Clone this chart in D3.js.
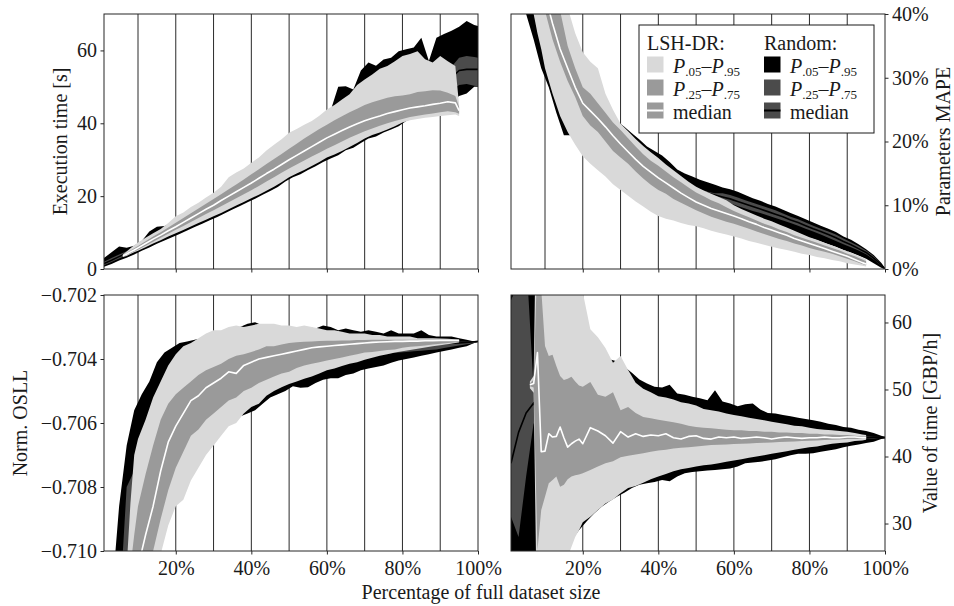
<!DOCTYPE html>
<html>
<head>
<meta charset="utf-8">
<script src="https://cdn.jsdelivr.net/npm/d3@7"></script>
<style>
body { margin: 0; background: #fff; }
svg text { font-family: "Liberation Serif", "Times New Roman", serif; fill: #1a1a1a; }
</style>
</head>
<body>
<svg id="chart" width="954" height="606"></svg>
<script>
// x positions (percentage of full dataset size)
var xRandom = [1,3,5,7,9,11,13,15,17,19, 21,23,25,27,29,31,33,35,37,39, 41,43,45,47,49,51,53,55,57,59,
  61,63,65,67,69,71,73,75,77,79, 81,83,85,87,89,91,93,95,97,99, 100];
var xLsh = [6,7,8,9,10,12,14,16,18,20, 22,24,26,28,30,32,34,36,38,40, 42,44,46,48,50,52,54,56,58,60,
  62,64,66,68,70,72,74,76,78,80, 82,84,86,88,90,92,94,95];
var xLshVot = [6,7,8,9,10,11,12,13,14,15, 16,17,18,19,20,22,24,26,28,30, 32,34,36,38,40,42,44,46,48,50,
  52,54,56,58,60,62,64,66,68,70, 72,74,76,78,80,82,84,86,88,90, 92,94,95];

var xTicks = [20, 40, 60, 80, 100];
var gridX = [10, 20, 30, 40, 50, 60, 70, 80, 90];

// --- execution time [s]
var timeRandP05 = [0.6,1.4,2.3,3.1,4.0,5.0,5.9,6.9,7.8,8.7, 9.6,10.6,11.5,12.4,13.4,14.3,15.3,16.3,17.3,18.3,
  19.3,20.4,21.4,22.5,24.0,25.2,26.0,27.2,28.2,29.4, 30.3,31.2,32.6,33.3,34.6,35.8,36.4,37.5,38.3,39.2,
  40.6,41.5,42.5,43.5,44.3,45.0,45.8,47.5,48.2,50.0, 50.0];
var timeRandP25 = [1.0,1.9,2.9,3.8,4.8,5.9,7.0,8.1,9.2,10.3, 11.4,12.5,13.6,14.7,15.8,16.9,18.0,19.1,20.2,21.3,
  22.4,23.5,24.6,25.7,26.8,27.9,29.0,30.1,31.2,32.3, 33.4,34.5,35.6,36.7,37.8,38.9,40.0,41.0,42.0,43.0,
  44.0,45.0,45.8,46.6,47.4,48.2,49.0,50.5,50.8,50.3, 50.2];
var timeRandP50 = [1.5,2.4,3.4,4.3,5.4,6.5,7.6,8.8,9.9,11.0, 12.1,13.3,14.4,15.5,16.7,17.8,19.0,20.1,21.3,22.4,
  23.6,24.7,25.9,27.0,28.2,29.3,30.5,31.6,32.8,33.9, 35.1,36.2,37.4,38.5,39.7,40.8,42.0,43.1,44.2,45.3,
  46.4,47.5,48.5,49.5,50.5,51.5,52.5,54.5,54.8,54.8, 54.8];
var timeRandP75 = [2.0,3.0,4.0,4.9,6.0,7.2,8.4,9.5,10.7,11.9, 13.0,14.2,15.4,16.6,17.8,19.0,20.2,21.4,22.6,23.8,
  25.0,26.2,27.4,28.6,29.8,31.0,32.2,33.4,34.6,35.8, 37.0,38.2,39.4,40.6,41.8,43.0,44.2,45.4,46.6,47.8,
  49.0,50.2,51.3,52.4,53.5,54.5,55.5,58.0,58.5,58.2, 58.0];
var timeRandP95 = [3.0,4.6,6.2,5.8,6.4,7.7,10.3,11.6,11.8,12.6, 13.8,15.0,16.5,18.0,19.5,21.0,22.5,24.0,25.5,27.0,
  28.5,30.0,31.5,33.0,34.5,36.0,37.5,39.0,40.5,42.0, 43.5,50.0,50.2,49.3,54.5,56.7,55.8,57.5,58.0,59.8,
  60.3,60.8,63.5,57.1,63.5,64.5,65.4,66.5,68.1,67.0, 66.7];
var timeLshP05 = [3.3,3.6,4.1,4.6,5.0,6.0,7.0,7.9,8.9,9.8, 10.7,11.7,12.6,13.5,14.5,15.4,16.4,17.4,18.4,19.4,
  20.4,21.5,22.6,23.8,25.2,26.2,27.2,28.3,29.4,30.6, 31.4,32.4,33.5,34.6,35.8,36.8,37.5,38.3,39.2,40.2,
  40.8,41.2,41.5,41.7,42.0,42.2,42.4,42.0];
var timeLshP25 = [3.4,3.8,4.3,4.8,5.3,6.4,7.5,8.6,9.7,10.8, 11.8,12.9,14.0,15.1,16.1,17.2,18.3,19.4,20.5,21.6,
  22.8,24.0,25.2,26.4,27.6,28.7,29.8,30.9,31.9,33.0, 34.0,35.0,36.0,36.9,37.8,38.6,39.3,40.0,40.6,41.2,
  41.7,42.1,42.4,42.7,43.0,43.3,43.0,42.6];
var timeLshP50 = [3.6,4.1,4.7,5.2,5.8,7.0,8.2,9.3,10.5,11.6, 12.8,14.0,15.2,16.4,17.5,18.8,20.0,21.2,22.4,23.6,
  24.9,26.2,27.4,28.7,30.0,31.2,32.4,33.6,34.8,36.0, 37.0,38.0,39.0,39.9,40.7,41.4,42.0,42.7,43.2,43.7,
  44.2,44.5,44.8,45.2,45.5,45.9,45.6,43.5];
var timeLshP75 = [3.8,4.4,5.1,5.7,6.3,7.6,8.9,10.1,11.4,12.7, 14.0,15.3,16.6,17.9,19.2,20.5,21.9,23.2,24.6,26.0,
  27.4,28.8,30.2,31.6,33.0,34.4,35.8,37.1,38.4,39.6, 40.8,41.9,43.0,44.0,45.0,45.8,46.4,47.0,47.4,47.6,
  48.0,48.6,48.8,49.1,49.0,48.4,47.5,44.5];
var timeLshP95 = [4.0,4.8,5.7,6.5,7.3,8.6,9.8,11.0,12.6,14.5, 15.5,17.0,18.2,19.6,20.9,22.6,25.2,26.5,27.6,29.2,
  30.6,32.5,34.1,35.6,37.4,38.4,39.6,40.6,42.1,43.8, 45.0,46.5,48.0,50.5,52.0,53.4,55.0,55.7,57.0,58.5,
  59.0,59.8,57.6,56.7,58.5,57.0,55.7,45.0];

// --- parameters MAPE [%]
var mapeRandP05 = [60,48,40,36,31.5,28.5,24.5,21,21,19.2, 18.2,17.6,17.0,16.4,15.8,15.2,14.6,14.0,13.5,13.0,
  12.5,12.0,11.5,11.0,10.6,10.2,10.0,9.8,9.5,9.2, 8.6,8.2,7.9,7.5,7.1,6.7,6.3,5.9,5.5,5.1,
  4.7,4.3,3.9,3.5,3.0,2.6,2.1,1.6,0.9,0.2, 0];
var mapeRandP25 = [72,55,46,40,36,31.5,28,25,23,21.8, 20.8,20,19.2,18.4,17.7,17,16.3,15.6,15,14.4,
  13.9,13.4,12.8,12.3,11.8,11.4,11.1,10.9,10.6,10.3, 9.9,9.5,9.1,8.8,8.4,8.0,7.6,7.2,6.8,6.3,
  5.9,5.4,4.9,4.4,3.9,3.4,2.9,2.3,1.5,0.5, 0];
var mapeRandP50 = [80,62,52,45,40,35,31,28,26,24.5, 23,22,21,20.2,19.4,18.6,17.8,17.0,16.3,15.7,
  15.1,14.5,13.9,13.3,12.7,12.2,11.9,11.6,11.3,11.0, 10.6,10.2,9.8,9.4,9.0,8.6,8.2,7.7,7.3,6.8,
  6.3,5.9,5.4,4.9,4.3,3.8,3.2,2.6,1.7,0.7, 0];
var mapeRandP75 = [90,72,58,50,44,39,35,31.5,29,27, 25.5,24,23,22,21,20.2,19.4,18.6,17.8,17.0,
  16.2,15.5,14.8,13.9,13.1,12.5,12.1,11.9,11.9,11.6, 11.2,10.8,10.4,10.0,9.6,9.2,8.7,8.2,7.8,7.3,
  6.8,6.3,5.9,5.4,4.8,4.2,3.6,2.9,2.0,0.9, 0];
var mapeRandP95 = [100,90,75,62,55,48,42,38,35,32, 29.5,27.5,26,24.5,23.2,22.3,21.3,20.3,19.2,18.5,
  17.8,16.8,15.6,15.0,14.5,14.0,13.6,13.2,12.8,12.5, 12.1,11.6,11.1,10.7,10.2,9.8,9.3,8.8,8.3,7.8,
  7.3,6.8,6.3,5.8,5.1,4.6,3.9,3.1,2.2,1.0, 0];
var mapeLshP05 = [46,40,37,34.5,31.5,27.5,24,21.5,19.5,17.7, 16.5,15.5,14.5,13.3,12.4,11.5,10.6,9.8,9.0,8.3,
  7.9,7.6,7.2,6.9,6.7,6.4,6.0,5.7,5.4,5.1, 4.8,4.4,4.1,3.8,3.5,3.2,3.0,2.7,2.4,2.2,
  1.9,1.7,1.4,1.2,0.9,0.7,0.5,0.4];
var mapeLshP25 = [60,52,46,42,40.5,36,32.5,29.5,27,24, 22.5,21.5,20,18.5,17.5,16.5,15.3,14.2,13.2,12.4,
  11.8,11.0,10.4,9.8,9.2,8.7,8.2,7.8,7.4,7.1, 6.7,6.3,5.9,5.5,5.1,4.7,4.4,4.0,3.7,3.3,
  3.0,2.7,2.4,2.0,1.6,1.2,0.8,0.6];
var mapeLshP50 = [65,57,50,46,43,38.5,34.5,31.5,28.5,26.0, 24.8,23.6,22.3,20.9,19.6,18.4,17.2,16.1,15.2,14.3,
  13.5,12.7,11.9,11.2,10.5,10.0,9.5,9.1,8.7,8.3, 7.9,7.4,7.0,6.5,6.1,5.7,5.3,4.8,4.4,4.0,
  3.6,3.2,2.8,2.4,2.0,1.5,1.0,0.8];
var mapeLshP75 = [70,62,56,50,47,43,40.5,35,31.5,28.5, 27.5,26,24.5,23,21.8,20.5,19.2,18,17,16.2,
  15.3,14.4,13.6,12.8,12.0,11.4,10.8,10.3,9.7,9.1, 8.6,8.1,7.6,7.1,6.7,6.2,5.8,5.3,4.9,4.5,
  4.1,3.7,3.3,2.9,2.4,2.0,1.5,1.2];
var mapeLshP95 = [90,80,72,65,60,52,45,41,37,34, 32.5,31.5,27.5,25,22.8,21.6,20.4,19.3,18.3,17.4,
  16.4,15.5,14.6,13.7,12.9,12.3,11.8,11.3,10.8,10.0, 9.4,8.9,8.4,7.9,7.5,7.0,6.5,6.0,5.5,5.0,
  4.6,4.1,3.7,3.2,2.8,2.3,1.8,1.5];

// --- normalised OSLL
var osllRandP05 = [-0.7200,-0.7200,-0.7190,-0.7170,-0.7150,-0.7135,-0.7120,-0.7105,-0.7095,-0.7085,
  -0.7080,-0.7075,-0.7070,-0.7067,-0.7064,-0.7062,-0.7060,-0.7060,-0.7058,-0.7057,
  -0.7056,-0.7054,-0.7052,-0.7051,-0.7050,-0.70485,-0.7049,-0.70488,-0.70475,-0.70465,
  -0.7046,-0.7046,-0.7045,-0.70445,-0.70435,-0.7043,-0.70425,-0.7042,-0.70412,-0.70405,
  -0.7040,-0.70395,-0.7039,-0.70385,-0.7038,-0.70375,-0.7037,-0.70365,-0.7036,-0.7035, -0.70347];
var osllRandP25 = [-0.7200,-0.7180,-0.7150,-0.7130,-0.7110,-0.7095,-0.7085,-0.7078,-0.7072,-0.7068,
  -0.7064,-0.7061,-0.7058,-0.7056,-0.7054,-0.7052,-0.7050,-0.7049,-0.7048,-0.7047,
  -0.7046,-0.70455,-0.7045,-0.70445,-0.7044,-0.70435,-0.7043,-0.70425,-0.7042,-0.70415,
  -0.7041,-0.70405,-0.7040,-0.70397,-0.70394,-0.70391,-0.70388,-0.70385,-0.70382,-0.7038,
  -0.70378,-0.70376,-0.70374,-0.70372,-0.7037,-0.70366,-0.70362,-0.70358,-0.70354,-0.7035, -0.70347];
var osllRandP50 = [-0.7200,-0.7170,-0.7140,-0.7110,-0.7092,-0.7080,-0.7072,-0.7066,-0.7061,-0.7057,
  -0.7054,-0.70515,-0.70495,-0.7048,-0.70465,-0.7045,-0.7044,-0.7043,-0.7042,-0.70415,
  -0.7041,-0.70405,-0.7040,-0.70395,-0.7039,-0.70388,-0.70385,-0.70382,-0.7038,-0.70378,
  -0.70375,-0.70373,-0.7037,-0.70368,-0.70366,-0.70364,-0.70362,-0.7036,-0.70359,-0.70358,
  -0.70357,-0.70356,-0.70355,-0.70354,-0.70353,-0.70352,-0.70351,-0.7035,-0.70348,-0.70346, -0.70345];
var osllRandP75 = [-0.7180,-0.7150,-0.7120,-0.7080,-0.7075,-0.7070,-0.7063,-0.7058,-0.7054,-0.7051,
  -0.7049,-0.7047,-0.7045,-0.70435,-0.7042,-0.7041,-0.7040,-0.7039,-0.70385,-0.7038,
  -0.70375,-0.7037,-0.70365,-0.7036,-0.7036,-0.70355,-0.70355,-0.7035,-0.7035,-0.7035,
  -0.7035,-0.7035,-0.7035,-0.7035,-0.7035,-0.7035,-0.70348,-0.70348,-0.70348,-0.70348,
  -0.70347,-0.70347,-0.70347,-0.70347,-0.70346,-0.70346,-0.70346,-0.70346,-0.70345,-0.70345, -0.70345];
var osllRandP95 = [-0.7160,-0.7115,-0.7086,-0.7067,-0.7056,-0.7051,-0.7047,-0.7041,-0.7038,-0.70365,
  -0.7035,-0.70345,-0.7034,-0.70335,-0.7032,-0.70315,-0.7032,-0.70305,-0.7030,-0.7029,
  -0.70285,-0.70295,-0.70295,-0.7030,-0.7030,-0.7030,-0.70305,-0.7030,-0.70305,-0.70295,
  -0.7030,-0.7031,-0.70305,-0.7031,-0.70315,-0.7031,-0.70315,-0.7032,-0.7031,-0.7032,
  -0.7032,-0.7032,-0.7031,-0.70325,-0.7033,-0.7033,-0.7033,-0.70335,-0.7034,-0.70345, -0.70345];
var osllLshP05 = [-0.7160,-0.7150,-0.7140,-0.7135,-0.7130,-0.7120,-0.7110,-0.7101,-0.7092,-0.7086,
  -0.7084,-0.7078,-0.7074,-0.7070,-0.7067,-0.7064,-0.7061,-0.7060,-0.7057,-0.7055,
  -0.7054,-0.70515,-0.7050,-0.70488,-0.70478,-0.7047,-0.70462,-0.70455,-0.70445,-0.70435,
  -0.7043,-0.70422,-0.70415,-0.7041,-0.70402,-0.70396,-0.7039,-0.70385,-0.7038,-0.70376,
  -0.70372,-0.70368,-0.70364,-0.7036,-0.70357,-0.70354,-0.7035,-0.70348];
var osllLshP25 = [-0.7160,-0.7150,-0.7140,-0.7130,-0.7120,-0.7110,-0.7100,-0.7090,-0.7081,-0.7074,
  -0.7069,-0.7064,-0.7062,-0.7059,-0.7057,-0.7055,-0.7053,-0.7052,-0.7050,-0.7049,
  -0.70475,-0.70465,-0.70455,-0.70445,-0.7044,-0.70428,-0.7042,-0.70415,-0.7041,-0.70405,
  -0.7040,-0.70395,-0.7039,-0.70385,-0.7038,-0.70378,-0.70375,-0.70372,-0.7037,-0.70365,
  -0.70362,-0.7036,-0.70358,-0.70355,-0.70352,-0.7035,-0.70348,-0.70347];
var osllLshP50 = [-0.7140,-0.7130,-0.7120,-0.7113,-0.7105,-0.7095,-0.7086,-0.7075,-0.7066,-0.7061,
  -0.7057,-0.7053,-0.70515,-0.7049,-0.70475,-0.7046,-0.7044,-0.70445,-0.7042,-0.7041,
  -0.7040,-0.70395,-0.7039,-0.70385,-0.7038,-0.70375,-0.7037,-0.70365,-0.70362,-0.7036,
  -0.70358,-0.70356,-0.70354,-0.70352,-0.7035,-0.70348,-0.70347,-0.70346,-0.70345,-0.70345,
  -0.70344,-0.70344,-0.70343,-0.70343,-0.70342,-0.70342,-0.70342,-0.70342];
var osllLshP75 = [-0.7130,-0.7118,-0.7105,-0.7095,-0.7086,-0.7076,-0.7067,-0.7059,-0.7054,-0.7051,
  -0.7049,-0.7047,-0.7045,-0.70435,-0.70425,-0.70415,-0.7040,-0.7039,-0.70385,-0.70378,
  -0.7037,-0.7036,-0.7036,-0.70355,-0.7035,-0.70348,-0.70346,-0.70345,-0.70344,-0.70343,
  -0.70343,-0.70342,-0.70342,-0.70341,-0.70341,-0.7034,-0.7034,-0.7034,-0.7034,-0.7034,
  -0.7034,-0.7034,-0.7034,-0.7034,-0.7034,-0.7034,-0.7034,-0.7034];
var osllLshP95 = [-0.7130,-0.7105,-0.7085,-0.7070,-0.7065,-0.7059,-0.7052,-0.7047,-0.7042,-0.70385,
  -0.7036,-0.7035,-0.70335,-0.7032,-0.7031,-0.7031,-0.7030,-0.70295,-0.7030,-0.70295,
  -0.7029,-0.7029,-0.7029,-0.70295,-0.70295,-0.7030,-0.70295,-0.7030,-0.70305,-0.7031,
  -0.7031,-0.70315,-0.7032,-0.7032,-0.7032,-0.70325,-0.70325,-0.7033,-0.7033,-0.7033,
  -0.7033,-0.70335,-0.70335,-0.70335,-0.70336,-0.70337,-0.70338,-0.70339];

// --- value of time [GBP/h]
var votRandP05 = [10,10,10,12,16,20,23,25.5,27.5,29, 30.3,31.5,32.5,33.3,34.0,34.6,35.3,35.8,36.0,36.2,
  36.5,36.3,37.0,37.5,37.7,37.8,37.9,38.0,38.1,38.2, 38.5,39.0,39.1,39.2,39.4,39.6,39.9,40.2,40.4,40.4,
  40.5,40.7,40.9,41.1,41.4,41.6,41.8,42.0,42.2,42.6, 42.7];
var votRandP25 = [31,28,37,45,39.2,39.6,40.0,40.3,40.5,40.7, 40.9,41.0,41.1,41.2,41.3,41.4,41.5,41.6,41.6,41.7,
  41.7,41.8,41.8,41.9,41.9,42.0,42.0,42.0,42.1,42.1, 42.2,42.2,42.2,42.3,42.3,42.3,42.4,42.4,42.4,42.5,
  42.5,42.5,42.5,42.6,42.6,42.6,42.6,42.7,42.7,42.8, 42.8];
var votRandP50 = [39,43.6,46.5,48,45,44,43.5,43.3,43.2,43.1, 43.0,43.0,43.0,42.9,43.0,42.9,42.9,42.9,42.9,42.9,
  42.9,42.9,42.9,42.9,42.9,42.8,42.8,42.8,42.9,42.8, 42.8,42.9,42.8,42.8,42.8,42.9,42.8,42.8,42.8,42.9,
  42.8,42.8,42.9,42.8,42.8,42.9,42.8,42.8,42.9,42.85, 42.85];
var votRandP75 = [63.3,66,70,50,52,49,48,47,46.5,46, 45.6,45.3,45.0,44.8,44.6,44.5,44.4,44.3,44.2,44.1,
  44.0,44.0,43.9,43.9,43.8,43.8,43.7,43.7,43.6,43.6, 43.6,43.5,43.5,43.5,43.4,43.4,43.4,43.3,43.3,43.3,
  43.2,43.2,43.2,43.2,43.1,43.1,43.1,43.0,43.0,42.9, 42.9];
var votRandP95 = [80,80,80,75,70,66,64,62,60,58.5, 57.5,56.5,55.5,54.5,54.2,53.4,52.5,51.5,50.9,50.4,
  50.3,50.7,49.4,49.2,48.9,48.7,48.4,49.9,48.2,47.9, 47.5,47.8,47.9,47.0,46.5,46.4,46.2,46.0,45.8,45.6,
  45.4,45.2,44.9,44.7,44.4,44.3,44.0,43.8,43.5,43.1, 42.9];
var votLshP05 = [50.2,49.5,10,10,12,14,16,18,21,23.5, 25,26.5,28,29,30.2,31.0,32.0,33.0,33.6,34.5,
  35.3,35.6,36.1,36.6,37.0,37.4,37.8,38.1,38.3,38.5, 38.7,38.8,39.0,39.2,39.4,39.6,39.8,40.0,40.2,40.4,
  40.6,40.8,41.0,41.2,41.4,41.5,41.7,41.9,42.0,42.1, 42.3,42.4,42.5];
var votLshP25 = [50.5,50.3,26,32,34,36,36.5,37,35.5,35.8, 36.6,37,37.2,37.3,37.5,38,38.5,39,39.3,39.9,
  40.1,40.3,40.5,40.7,40.9,41.0,41.2,41.3,41.4,41.5, 41.6,41.7,41.75,41.8,41.85,41.9,41.95,42.0,42.05,42.1,
  42.15,42.2,42.25,42.3,42.35,42.4,42.45,42.5,42.55,42.6, 42.6,42.65,42.7];
var votLshP50 = [50.7,50.9,55.5,40.7,40.8,43.4,42.9,43.0,44.4,42.8, 41.4,41.9,42.3,42.6,41.9,44.3,43.8,43.1,42.0,43.7,
  42.9,43.4,43.0,43.2,43.1,43.4,42.8,42.6,43.0,43.1, 42.7,42.6,42.9,42.8,42.9,42.7,42.8,42.9,42.8,42.6,
  42.8,42.9,42.8,42.7,42.8,42.8,42.9,42.8,42.8,42.9, 42.9,42.8,42.8];
var votLshP75 = [50.9,51.5,70,65,56.5,55,55.2,53.5,52,51.4, 51.6,51.9,51.2,50.6,50.4,51.1,49.2,48.9,49.6,46.9,
  47.4,46.5,45.9,45.7,45.5,45.3,45.1,44.9,44.6,44.4, 44.3,44.2,44.1,44.0,43.9,43.9,43.8,43.8,43.7,43.7,
  43.6,43.6,43.5,43.5,43.4,43.4,43.3,43.3,43.2,43.2, 43.1,43.0,43.0];
var votLshP95 = [51.2,52,90,90,90,85,80,78,75,72, 70,68,66,64.8,64.5,59,57.8,56.2,54.0,55.0,
  52.9,51.0,50.1,49.6,49.0,48.8,48.5,48.1,47.9,47.6, 47.1,46.9,46.7,46.4,46.2,46.0,45.8,45.6,45.4,45.2,
  45.0,44.8,44.6,44.5,44.3,44.1,44.0,43.9,43.8,43.7, 43.5,43.3,43.2];

// legend entries: subscripts per percentile row, then the median row
var legendRanges = [[".05", ".95"], [".25", ".75"]];
var legendMedian = "median";

var colors = { rndOuter: "#000000", rndInner: "#4b4b4b", lshOuter: "#d9d9d9", lshInner: "#9a9a9a" };

var svg = d3.select("#chart");
var defs = svg.append("defs");

var fmtMinus = function (d) { return d3.format(".3f")(d).replace("-", "\u2212"); };

var panels = [
  { left: 104, right: 478, top: 14, bottom: 269, domain: [0, 70], ticks: [0, 20, 40, 60],
    fmt: function (d) { return d; }, side: "left", label: "Execution time [s]", labelX: 67, xLabels: false,
    xl: xLsh, lsh: [timeLshP05, timeLshP25, timeLshP50, timeLshP75, timeLshP95],
    rnd: [timeRandP05, timeRandP25, timeRandP50, timeRandP75, timeRandP95] },
  { left: 511, right: 885, top: 14, bottom: 269, domain: [0, 40], ticks: [0, 10, 20, 30, 40],
    fmt: function (d) { return d + "%"; }, side: "right", label: "Parameters MAPE", labelX: 950, xLabels: false,
    xl: xLsh, lsh: [mapeLshP05, mapeLshP25, mapeLshP50, mapeLshP75, mapeLshP95],
    rnd: [mapeRandP05, mapeRandP25, mapeRandP50, mapeRandP75, mapeRandP95] },
  { left: 104, right: 478, top: 295, bottom: 551, domain: [-0.710, -0.702],
    ticks: [-0.710, -0.708, -0.706, -0.704, -0.702],
    fmt: fmtMinus, side: "left", label: "Norm. OSLL", labelX: 26.5, xLabels: true,
    xl: xLsh, lsh: [osllLshP05, osllLshP25, osllLshP50, osllLshP75, osllLshP95],
    rnd: [osllRandP05, osllRandP25, osllRandP50, osllRandP75, osllRandP95] },
  { left: 511, right: 885, top: 295, bottom: 551, domain: [25.9, 64.1], ticks: [30, 40, 50, 60],
    fmt: function (d) { return d; }, side: "right", label: "Value of time [GBP/h]", labelX: 937, xLabels: true,
    xl: xLshVot, lsh: [votLshP05, votLshP25, votLshP50, votLshP75, votLshP95],
    rnd: [votRandP05, votRandP25, votRandP50, votRandP75, votRandP95] }
];

panels.forEach(function (p, pi) {
  var x = d3.scaleLinear().domain([1, 100]).range([p.left, p.right]);
  var y = d3.scaleLinear().domain(p.domain).range([p.bottom, p.top]);

  defs.append("clipPath").attr("id", "clip" + pi)
    .append("rect").attr("x", p.left).attr("y", p.top)
    .attr("width", p.right - p.left).attr("height", p.bottom - p.top);

  var g = svg.append("g").attr("clip-path", "url(#clip" + pi + ")");

  // vertical grid lines (behind the bands)
  g.selectAll(".grid").data(gridX).enter().append("line")
    .attr("x1", function (d) { return x(d); }).attr("x2", function (d) { return x(d); })
    .attr("y1", p.top).attr("y2", p.bottom)
    .attr("stroke", "#2a2a2a").attr("stroke-width", 1);

  function band(xs, lo, hi, fill) {
    var area = d3.area()
      .x(function (d, i) { return x(xs[i]); })
      .y0(function (d, i) { return y(lo[i]); })
      .y1(function (d, i) { return y(hi[i]); });
    g.append("path").datum(xs).attr("d", area).attr("fill", fill);
  }
  function median(xs, vals, stroke) {
    var line = d3.line()
      .x(function (d, i) { return x(xs[i]); })
      .y(function (d, i) { return y(vals[i]); });
    g.append("path").datum(xs).attr("d", line).attr("fill", "none")
      .attr("stroke", stroke).attr("stroke-width", 1.6).attr("stroke-linejoin", "round");
  }

  band(xRandom, p.rnd[0], p.rnd[4], colors.rndOuter);
  band(xRandom, p.rnd[1], p.rnd[3], colors.rndInner);
  median(xRandom, p.rnd[2], "#000");
  band(p.xl, p.lsh[0], p.lsh[4], colors.lshOuter);
  band(p.xl, p.lsh[1], p.lsh[3], colors.lshInner);
  median(p.xl, p.lsh[2], "#fff");

  // frame
  svg.append("rect").attr("x", p.left).attr("y", p.top)
    .attr("width", p.right - p.left).attr("height", p.bottom - p.top)
    .attr("fill", "none").attr("stroke", "#262626").attr("stroke-width", 1);

  // x axis
  var xa = svg.append("g").attr("transform", "translate(0," + p.bottom + ")")
    .call(d3.axisBottom(x).tickValues(xTicks).tickSize(3.5).tickPadding(6)
      .tickFormat(p.xLabels ? function (d) { return d + "%"; } : function () { return ""; }));
  // y axis
  var axisY = p.side === "left" ? d3.axisLeft(y) : d3.axisRight(y);
  var ya = svg.append("g").attr("transform", "translate(" + (p.side === "left" ? p.left : p.right) + ",0)")
    .call(axisY.tickValues(p.ticks).tickSize(3.5).tickPadding(3.5).tickFormat(p.fmt));

  [xa, ya].forEach(function (a) {
    a.select(".domain").remove();
    a.selectAll("line").attr("stroke", "#262626");
    a.selectAll("text").attr("font-size", 20).attr("fill", "#1a1a1a");
    a.attr("font-family", null);
  });

  svg.append("text")
    .attr("transform", "translate(" + p.labelX + "," + ((p.top + p.bottom) / 2) + ") rotate(-90)")
    .attr("text-anchor", "middle").attr("font-size", 20).text(p.label);
});

svg.append("text").attr("x", 481).attr("y", 599).attr("text-anchor", "middle")
  .attr("font-size", 20).text("Percentage of full dataset size");

// legend
var lg = svg.append("g").attr("transform", "translate(639,25)");
lg.append("rect").attr("width", 235).attr("height", 108)
  .attr("fill", "#fff").attr("stroke", "#1a1a1a").attr("stroke-width", 1);

var legendCols = [
  { x: 8, title: "LSH-DR:", fills: [colors.lshOuter, colors.lshInner, colors.lshInner], line: "#fff" },
  { x: 125, title: "Random:", fills: [colors.rndOuter, colors.rndInner, colors.rndInner], line: "#000" }
];
legendCols.forEach(function (c) {
  lg.append("text").attr("x", c.x).attr("y", 25).attr("font-size", 20).text(c.title);
  [0, 1, 2].forEach(function (i) {
    var by = 48 + i * 23;
    lg.append("rect").attr("x", c.x).attr("y", by - 16.5).attr("width", 16.5).attr("height", 16)
      .attr("fill", c.fills[i]);
    if (i === 2) {
      lg.append("line").attr("x1", c.x).attr("x2", c.x + 16.5)
        .attr("y1", by - 8.5).attr("y2", by - 8.5).attr("stroke", c.line).attr("stroke-width", 2);
    }
    var t = lg.append("text").attr("x", c.x + 26).attr("y", by).attr("font-size", 20);
    if (i < 2) {
      legendRanges[i].forEach(function (sub, k) {
        if (k > 0) t.append("tspan").attr("y", by).text("\u2013");
        t.append("tspan").attr("y", by).attr("font-style", "italic").text("P");
        t.append("tspan").attr("y", by + 3).attr("font-size", 13).text(sub);
      });
    } else {
      t.text(legendMedian);
    }
  });
});
</script>
</body>
</html>
